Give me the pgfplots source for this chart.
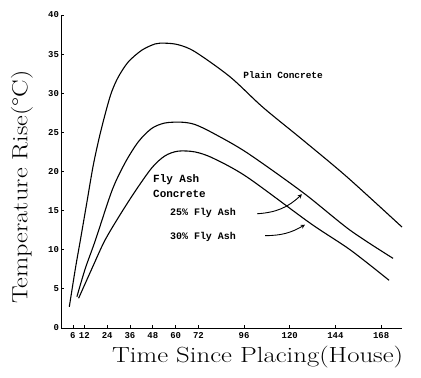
\documentclass[border=0pt]{standalone}
\usepackage{fontspec}
\usepackage{pgfplots}
\pgfplotsset{compat=1.18}
\newfontfamily\tw{Liberation Mono}
\begin{document}
\begin{tikzpicture}
\useasboundingbox (-61.5bp,-50bp) rectangle (359.5bp,328bp);
\begin{axis}[
  at={(0,0)}, anchor=origin,
  scale only axis, width=340.5bp, height=313bp,
  xmin=0, xmax=179, ymin=0, ymax=40,
  axis lines=left, axis line style={-, line width=1pt},
  xtick={6,12,24,36,48,60,72,96,120,144,168},
  ytick={0,5,...,40},
  tick align=inside, major tick length=3pt, tick style={line width=0.8pt, black},
  /pgf/number format/assume math mode=true,
  ticklabel style={font=\tw\bfseries\fontsize{9}{10}\selectfont},
  xticklabel style={yshift=-1pt},
  yticklabel style={xshift=1pt},
  xlabel={\scalebox{1.22}[1]{Time Since Placing(House)}},
  ylabel={\scalebox{1.2}[1]{Temperature Rise(\textdegree C)}},
  xlabel style={at={(axis description cs:0.576,-0.093)}, anchor=center, font=\fontsize{22}{26}\selectfont},
  ylabel style={at={(axis description cs:-0.116,0.45)}, anchor=center, font=\fontsize{22}{26}\selectfont},
  clip=false,
]
\addplot[black, line width=1.1pt, smooth, no marks] coordinates {
(4.1,2.7) (7.3,7.6) (9.9,11.2) (13.3,16.0) (16.7,20.8) (20.2,24.7) (23.8,28.1)
(26.4,30.2) (29.9,32.1) (35.1,34.0) (42.2,35.5) (49.2,36.3) (54.4,36.4) (61.4,36.2)
(70.2,35.3) (88.6,32.1) (105.9,28.2) (127.0,24.0) (150.1,19.3) (179.0,12.9)};
\addplot[black, line width=1.1pt, smooth, no marks] coordinates {
(8.1,4.0) (12.5,7.6) (17.8,11.2) (26.6,17.6) (33.4,21.1) (40.4,23.8) (47.4,25.5)
(54.4,26.2) (63.2,26.3) (70.2,26.0) (79.7,24.9) (97.5,22.4) (127.0,17.3)
(151.7,12.5) (174.3,8.9)};
\addplot[black, line width=1.1pt, smooth, no marks] coordinates {
(9.0,3.8) (16.0,7.6) (22.6,11.1) (30.1,14.2) (38.8,17.5) (47.6,20.5) (54.4,22.0)
(61.3,22.6) (70.2,22.5) (79.7,21.7) (97.5,19.3) (130.7,13.4) (151.7,10.0) (172.2,6.1)};
\node[inner sep=0, font=\tw\bfseries\fontsize{9.5}{11}\selectfont] at (axis cs:116.5,32.3) {Plain Concrete};
\node[anchor=west, inner sep=0, font=\tw\bfseries\fontsize{11}{12}\selectfont] at (axis cs:48.1,18.9) {Fly Ash};
\node[anchor=west, inner sep=0, font=\tw\bfseries\fontsize{11}{12}\selectfont] at (axis cs:48.1,17.2) {Concrete};
\node[anchor=west, inner sep=0, font=\tw\bfseries\fontsize{10}{11}\selectfont] at (axis cs:57,14.7) {25\% Fly Ash};
\node[anchor=west, inner sep=0, font=\tw\bfseries\fontsize{10}{11}\selectfont] at (axis cs:57,11.6) {30\% Fly Ash};
\draw[-stealth, line width=0.9pt] (axis cs:102.8,14.6) to[bend right=20] (axis cs:126.4,17.1);
\draw[-stealth, line width=0.9pt] (axis cs:107,11.8) to[bend right=15] (axis cs:128,13.2);
\end{axis}
\end{tikzpicture}
\end{document}
